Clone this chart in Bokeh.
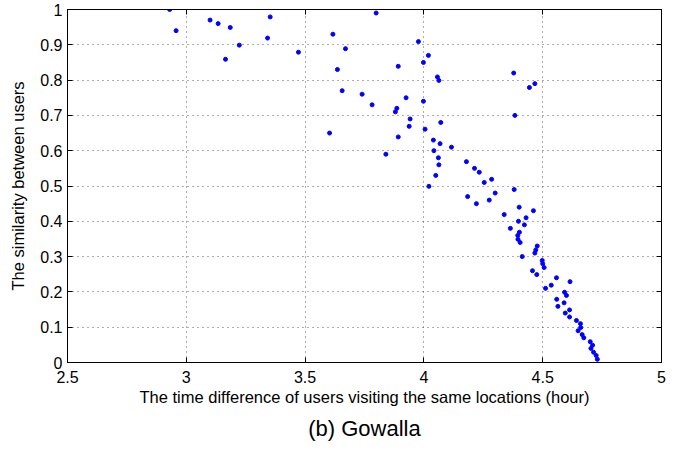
from bokeh.plotting import figure
from bokeh.models import FixedTicker, Range1d, Title, LinearAxis
from bokeh.embed import file_html
from bokeh.resources import INLINE

x_vals = [2.93, 2.957, 3.10, 3.134, 3.185, 3.165, 3.223, 3.353, 3.342, 3.472,
          3.617, 3.67, 3.636, 3.656, 3.799, 3.977, 4.019, 3.998, 3.892, 4.057,
          4.063, 3.74, 3.782, 3.925, 3.998, 3.886, 3.88, 3.942, 3.938, 4.071,
          4.005, 3.603, 3.84, 3.892, 4.04, 4.068, 4.116, 4.042, 4.061, 4.063,
          4.05, 4.021, 4.179, 4.213, 4.233, 4.285, 4.254, 4.30, 4.184, 4.221,
          4.275, 4.378, 4.444, 4.467, 4.383, 4.38, 4.401, 4.461, 4.338, 4.43,
          4.398, 4.423, 4.364, 4.402, 4.395, 4.396, 4.405, 4.477, 4.471, 4.467,
          4.414, 4.498, 4.50, 4.506, 4.457, 4.475, 4.558, 4.615, 4.536, 4.512,
          4.592, 4.60, 4.559, 4.59, 4.564, 4.613, 4.595, 4.613, 4.642, 4.659,
          4.66, 4.649, 4.666, 4.673, 4.70, 4.71, 4.703, 4.714, 4.725, 4.73]
y_vals = [1.0, 0.94, 0.97, 0.96, 0.949, 0.859, 0.899, 0.979, 0.919, 0.879,
          0.93, 0.889, 0.83, 0.77, 0.99, 0.909, 0.87, 0.85, 0.839, 0.809,
          0.799, 0.76, 0.73, 0.75, 0.74, 0.72, 0.71, 0.69, 0.669, 0.68,
          0.661, 0.65, 0.59, 0.639, 0.63, 0.62, 0.61, 0.60, 0.58, 0.56,
          0.53, 0.499, 0.569, 0.55, 0.539, 0.519, 0.51, 0.48, 0.47, 0.45,
          0.46, 0.82, 0.779, 0.79, 0.70, 0.49, 0.44, 0.43, 0.419, 0.41,
          0.40, 0.39, 0.38, 0.369, 0.36, 0.349, 0.34, 0.33, 0.319, 0.31,
          0.30, 0.289, 0.28, 0.269, 0.26, 0.249, 0.24, 0.229, 0.219, 0.21,
          0.199, 0.19, 0.179, 0.169, 0.159, 0.149, 0.14, 0.129, 0.119, 0.11,
          0.099, 0.09, 0.079, 0.07, 0.059, 0.049, 0.04, 0.029, 0.02, 0.009]

x_ticks = [2.5, 3, 3.5, 4, 4.5, 5]
x_tick_labels = ["2.5", "3", "3.5", "4", "4.5", "5"]
y_ticks = [0, 0.1, 0.2, 0.3, 0.4, 0.5, 0.6, 0.7, 0.8, 0.9, 1]
y_tick_labels = ["0", "0.1", "0.2", "0.3", "0.4", "0.5", "0.6", "0.7", "0.8", "0.9", "1"]

FONT = "Liberation Sans"

p = figure(frame_width=594, frame_height=353, output_backend="svg", toolbar_location=None,
           x_range=Range1d(2.5, 5), y_range=Range1d(0, 1),
           min_border_left=67, min_border_right=24, min_border_top=9, min_border_bottom=90)

p.scatter(x_vals, y_vals, size=4, color="#0000ff", line_color="#0000ff")

p.outline_line_color = "black"
p.outline_line_width = 1
p.outline_line_alpha = 1

for ax, ticks, labels in ((p.xaxis[0], x_ticks, x_tick_labels), (p.yaxis[0], y_ticks, y_tick_labels)):
    ax.ticker = FixedTicker(ticks=ticks)
    ax.major_label_overrides = {t: l for t, l in zip(ticks, labels)}
    ax.major_tick_in = 5
    ax.major_tick_out = 0
    ax.minor_tick_in = 0
    ax.minor_tick_out = 0
    ax.axis_line_color = "black"
    ax.major_tick_line_color = "black"
    ax.major_label_text_font = FONT
    ax.major_label_text_font_size = "16px"
    ax.major_label_text_color = "black"
    ax.axis_label_text_font = FONT
    ax.axis_label_text_font_size = "16.5px"
    ax.axis_label_text_font_style = "normal"
    ax.axis_label_text_color = "black"

p.xaxis.axis_label = "The time difference of users visiting the same locations (hour)"
p.yaxis.axis_label = "The similarity between users"
p.xaxis.major_label_standoff = 8
p.xaxis.axis_label_standoff = 2
p.yaxis.major_label_standoff = 5
p.yaxis.axis_label_standoff = 10

# mirrored tick marks on top and right (box style)
for loc, ticks in (("above", x_ticks), ("right", y_ticks)):
    ax2 = LinearAxis(ticker=FixedTicker(ticks=ticks), major_tick_in=5, major_tick_out=0,
                     minor_tick_in=0, minor_tick_out=0, major_label_text_font_size="0px",
                     major_label_standoff=0, axis_line_color="black",
                     major_tick_line_color="black")
    ax2.major_label_overrides = {t: "" for t in ticks}
    p.add_layout(ax2, loc)

p.grid.grid_line_color = "#333333"
p.grid.grid_line_dash = "1 4"
p.grid.grid_line_alpha = 0.8
p.xgrid.ticker = FixedTicker(ticks=x_ticks)
p.ygrid.ticker = FixedTicker(ticks=y_ticks)

cap = Title(text="(b) Gowalla", align="center", text_font=FONT, text_font_size="22px",
            text_font_style="normal", text_color="black", standoff=10)
p.add_layout(cap, "below")

p.background_fill_color = "white"
p.border_fill_color = "white"

open("out.html", "w").write(file_html(p, INLINE))
